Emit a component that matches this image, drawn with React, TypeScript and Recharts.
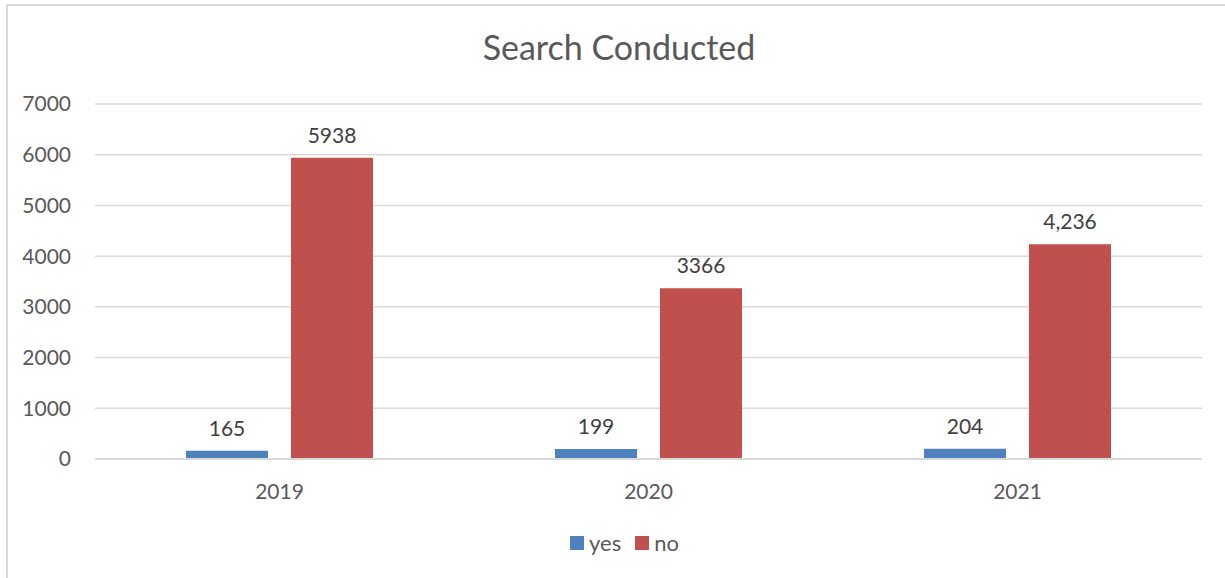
import { Bar, BarChart, CartesianGrid, LabelList, Legend, XAxis, YAxis } from 'recharts';

const YEARS = ['2019', '2020', '2021'];
const YES_VALUES = [165, 199, 204];
const NO_VALUES = [5938, 3366, 4236];
const YES_LABELS = ['165', '199', '204'];
const NO_LABELS = ['5938', '3366', '4,236'];
const Y_TICKS = [0, 1000, 2000, 3000, 4000, 5000, 6000, 7000];

const data = YEARS.map((year, i) => ({
  year,
  yes: YES_VALUES[i],
  no: NO_VALUES[i],
  yesLabel: YES_LABELS[i],
  noLabel: NO_LABELS[i],
}));

const FONT = 'Lato, "Open Sans", sans-serif';
const YES_COLOR = '#4F81BD';
const NO_COLOR = '#C0504D';

function LegendContent() {
  const items = [
    { name: 'yes', color: YES_COLOR },
    { name: 'no', color: NO_COLOR },
  ];
  return (
    <div style={{ display: 'flex', justifyContent: 'center', gap: 14, fontFamily: FONT, fontSize: 22, color: '#595959' }}>
      {items.map((it) => (
        <span key={it.name} style={{ display: 'flex', alignItems: 'center', gap: 5 }}>
          <span style={{ width: 14, height: 14, background: it.color, display: 'inline-block' }} />
          {it.name}
        </span>
      ))}
    </div>
  );
}

export default function App() {
  return (
    <div style={{ position: 'absolute', left: 0, top: 0, width: 1225, height: 578, background: '#fff', overflow: 'hidden' }}>
      <div
        style={{
          position: 'absolute',
          left: 6,
          top: 4,
          width: 1240,
          height: 600,
          borderLeft: '2px solid #d9d9d9',
          borderTop: '2px solid #d9d9d9',
        }}
      />
      <div
        style={{
          position: 'absolute',
          left: 0,
          top: 26,
          width: 1238,
          textAlign: 'center',
          fontFamily: FONT,
          fontSize: 34,
          color: '#595959',
        }}
      >
        Search Conducted
      </div>
      <div style={{ position: 'absolute', left: 0, top: 0 }}>
        <BarChart
          width={1225}
          height={578}
          data={data}
          margin={{ top: 104, right: 23, left: 35, bottom: 52 }}
          barCategoryGap="24.7%"
          barGap={23}
        >
          <CartesianGrid vertical={false} stroke="#d9d9d9" strokeWidth={1.5} />
          <XAxis
            dataKey="year"
            axisLine={{ stroke: '#d9d9d9', strokeWidth: 2 }}
            tickLine={false}
            tickMargin={19}
            height={40}
            tick={{ fontFamily: FONT, fontSize: 21, fill: '#595959' }}
          />
          <YAxis
            width={60}
            domain={[0, 7000]}
            ticks={Y_TICKS}
            axisLine={false}
            tickLine={false}
            tickMargin={18}
            tick={{ fontFamily: FONT, fontSize: 21, fill: '#595959' }}
          />
          <Legend
            content={<LegendContent />}
            wrapperStyle={{ position: 'absolute', top: 529, left: 12, width: 1225 }}
          />
          <Bar dataKey="yes" name="yes" fill={YES_COLOR} barSize={82} isAnimationActive={false}>
            <LabelList dataKey="yesLabel" position="top" offset={15} style={{ fontFamily: FONT, fontSize: 21, fill: '#404040' }} />
          </Bar>
          <Bar dataKey="no" name="no" fill={NO_COLOR} barSize={82} isAnimationActive={false}>
            <LabelList dataKey="noLabel" position="top" offset={15} style={{ fontFamily: FONT, fontSize: 21, fill: '#404040' }} />
          </Bar>
        </BarChart>
      </div>
    </div>
  );
}
